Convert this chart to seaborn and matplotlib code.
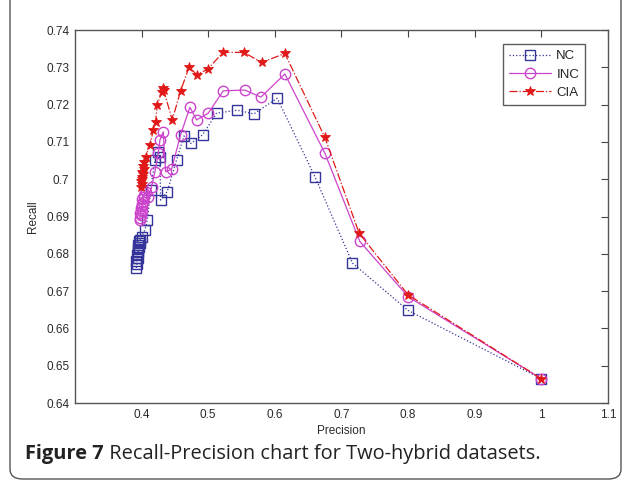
import matplotlib
matplotlib.use("Agg")
import matplotlib.pyplot as plt
import seaborn as sns
import pandas as pd
from matplotlib.patches import FancyBboxPatch

# ---- data ----
nc_precision = [0.392, 0.393, 0.392, 0.394, 0.393, 0.395, 0.394, 0.396, 0.395, 0.397, 0.396,
                0.398, 0.400, 0.405, 0.4085, 0.4135, 0.420, 0.425, 0.4275, 0.4285, 0.4385,
                0.4525, 0.4635, 0.474, 0.4915, 0.5125, 0.5435, 0.5685, 0.6035, 0.660, 0.7165,
                0.800, 1.000]
nc_recall = [0.6762, 0.6772, 0.6782, 0.6790, 0.6798, 0.6805, 0.6812, 0.6818, 0.6824, 0.6828, 0.6833,
             0.6838, 0.6846, 0.6864, 0.6890, 0.6971, 0.7052, 0.7074, 0.7059, 0.6944, 0.6967,
             0.7052, 0.7116, 0.7096, 0.7119, 0.7177, 0.7185, 0.7175, 0.7217, 0.7007, 0.6775,
             0.6648, 0.6465]

inc_precision = [0.398, 0.397, 0.399, 0.398, 0.400, 0.399, 0.401, 0.400, 0.402, 0.401, 0.403,
                 0.404, 0.406, 0.410, 0.415, 0.420, 0.425, 0.4275, 0.4325, 0.436, 0.445,
                 0.4585, 0.4725, 0.4825, 0.500, 0.5225, 0.555, 0.579, 0.615, 0.675, 0.7275,
                 0.800, 1.000]
inc_recall = [0.6890, 0.6897, 0.6903, 0.6910, 0.6916, 0.6922, 0.6928, 0.6934, 0.6940, 0.6946, 0.6952,
              0.6958, 0.6965, 0.6953, 0.6980, 0.7020, 0.7070, 0.7105, 0.7127, 0.7020, 0.7027,
              0.7119, 0.7193, 0.7159, 0.7177, 0.7237, 0.7239, 0.7220, 0.7282, 0.7070, 0.6833,
              0.6685, 0.6465]

cia_precision = [0.399, 0.400, 0.399, 0.401, 0.400, 0.402, 0.401, 0.403, 0.402, 0.404, 0.406,
                 0.4125, 0.4175, 0.421, 0.4235, 0.4300, 0.4340, 0.4320, 0.446, 0.4585, 0.4715,
                 0.4825, 0.499, 0.5225, 0.5535, 0.580, 0.615, 0.675, 0.7265, 0.800, 1.000]
cia_recall = [0.6980, 0.6987, 0.6994, 0.7000, 0.7007, 0.7014, 0.7020, 0.7028, 0.7036, 0.7045, 0.7060,
              0.7092, 0.7132, 0.7154, 0.7200, 0.7233, 0.7239, 0.7245, 0.7159, 0.7237, 0.7302,
              0.7280, 0.7295, 0.7340, 0.7340, 0.7313, 0.7337, 0.7112, 0.6855, 0.6690, 0.6465]

series_names = ["NC", "INC", "CIA"]
x_ticks = [0.4, 0.5, 0.6, 0.7, 0.8, 0.9, 1.0, 1.1]
x_tick_labels = ["0.4", "0.5", "0.6", "0.7", "0.8", "0.9", "1", "1.1"]
y_ticks = [0.64, 0.65, 0.66, 0.67, 0.68, 0.69, 0.70, 0.71, 0.72, 0.73, 0.74]
y_tick_labels = ["0.64", "0.65", "0.66", "0.67", "0.68", "0.69", "0.7", "0.71", "0.72", "0.73", "0.74"]
caption_bold = "Figure 7"
caption_text = " Recall-Precision chart for Two-hybrid datasets."

sns.set_style("white")
plt.rcParams['font.family'] = ['Liberation Sans', 'DejaVu Sans']

fig = plt.figure(figsize=(6.27, 4.86), dpi=100)
ax = fig.add_axes([75/627, 1-403/486, (608-75)/627, (403-30)/486])

styles = [
    dict(color="#34349a", marker="s", linestyle=":", mfc="none", mec="#34349a", ms=7, mew=1.0),
    dict(color="#cc44cc", marker="o", linestyle="-", mfc="none", mec="#cc44cc", ms=7.5, mew=1.0),
    dict(color="#e01818", marker="*", linestyle="-.", mfc="#e01818", mec="#e01818", ms=7, mew=0.6),
]
data = [(nc_precision, nc_recall), (inc_precision, inc_recall), (cia_precision, cia_recall)]
for name, (px, ry), st in zip(series_names, data, styles):
    df = pd.DataFrame({"Precision": px, "Recall": ry})
    sns.lineplot(data=df, x="Precision", y="Recall", sort=False, estimator=None,
                 ax=ax, label=name, linewidth=0.9, **st)

ax.set_xlim(0.3, 1.1)
ax.set_ylim(0.64, 0.74)
ax.set_xticks(x_ticks)
ax.set_xticklabels(x_tick_labels)
ax.set_yticks(y_ticks)
ax.set_yticklabels(y_tick_labels)
ax.tick_params(direction="in", top=True, right=True, length=5, width=0.8,
               labelsize=8.5, colors="#444444", labelcolor="#2a2a2a", pad=4)
for s in ax.spines.values():
    s.set_color("#555555")
    s.set_linewidth(1.0)
ax.set_xlabel("Precision", fontsize=8.5, color="#2a2a2a", labelpad=3)
ax.set_ylabel("Recall", fontsize=8.5, color="#2a2a2a", labelpad=5)

leg = ax.legend(loc="upper right", fontsize=9.5, frameon=True, fancybox=False,
                edgecolor="#333333", handlelength=3.2, borderpad=0.45,
                bbox_to_anchor=(0.957, 0.962), labelspacing=0.45, handletextpad=0.4,
                borderaxespad=0)
leg.get_frame().set_linewidth(1.0)

# outer rounded border
border = FancyBboxPatch((10/627, 7/486), (621-10)/627, (486-7)/486 + 0.05,
                        boxstyle="round,pad=0,rounding_size=0.02",
                        transform=fig.transFigure, fill=False, edgecolor="#555555",
                        linewidth=1.0, clip_on=False)
fig.patches.append(border)

t1 = fig.text(25/627, 1-459/486, caption_bold, fontsize=14.4, fontweight="bold",
              family=["Open Sans", "DejaVu Sans"], color="#222222", va="baseline")
fig.canvas.draw()
bb = t1.get_window_extent()
fig.text(bb.x1/627, 1-459/486, caption_text, fontsize=14.4,
         family=["Open Sans", "DejaVu Sans"], color="#222222", va="baseline")

fig.savefig("out.png", dpi=100)
